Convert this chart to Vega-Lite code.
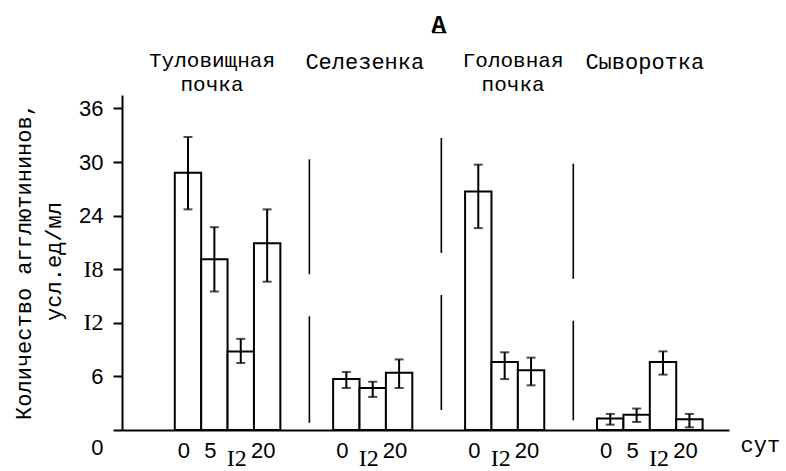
{
  "$schema": "https://vega.github.io/schema/vega-lite/v6.json",
  "width": 607,
  "height": 335,
  "autosize": {"type": "none"},
  "padding": {"left": 122, "top": 95, "right": 57, "bottom": 41},
  "background": "white",
  "config": {"view": {"stroke": null}, "font": "Liberation Mono"},
  "datasets": {
    "bars": [
      {"organ": "Туловищная почка", "day": 0, "bar": "T0", "mean": 28.8, "lo": 24.7, "hi": 32.8},
      {"organ": "Туловищная почка", "day": 5, "bar": "T5", "mean": 19.1, "lo": 15.5, "hi": 22.7},
      {"organ": "Туловищная почка", "day": 12, "bar": "T12", "mean": 8.8, "lo": 7.5, "hi": 10.2},
      {"organ": "Туловищная почка", "day": 20, "bar": "T20", "mean": 20.9, "lo": 16.6, "hi": 24.7},
      {"organ": "Селезенка", "day": 0, "bar": "S0", "mean": 5.7, "lo": 4.7, "hi": 6.5},
      {"organ": "Селезенка", "day": 12, "bar": "S12", "mean": 4.7, "lo": 3.7, "hi": 5.4},
      {"organ": "Селезенка", "day": 20, "bar": "S20", "mean": 6.4, "lo": 4.7, "hi": 7.9},
      {"organ": "Головная почка", "day": 0, "bar": "H0", "mean": 26.7, "lo": 22.6, "hi": 29.7},
      {"organ": "Головная почка", "day": 12, "bar": "H12", "mean": 7.6, "lo": 5.7, "hi": 8.7},
      {"organ": "Головная почка", "day": 20, "bar": "H20", "mean": 6.7, "lo": 5.0, "hi": 8.1},
      {"organ": "Сыворотка", "day": 0, "bar": "W0", "mean": 1.3, "lo": 0.6, "hi": 1.8},
      {"organ": "Сыворотка", "day": 5, "bar": "W5", "mean": 1.7, "lo": 0.9, "hi": 2.4},
      {"organ": "Сыворотка", "day": 12, "bar": "W12", "mean": 7.6, "lo": 6.2, "hi": 8.8},
      {"organ": "Сыворотка", "day": 20, "bar": "W20", "mean": 1.2, "lo": 0.3, "hi": 1.8}
    ],
    "seps": [
      {"bar": "sep1", "top": 30.3, "bottom": 0.8},
      {"bar": "sep2", "top": 32.7, "bottom": 0.8},
      {"bar": "sep3", "top": 29.8, "bottom": 1.1}
    ],
    "one": [{"n": 1}]
  },
  "encoding": {
    "x": {
      "field": "bar",
      "type": "nominal",
      "sort": null,
      "scale": {
        "domain": ["pad0", "pad1", "T0", "T5", "T12", "T20", "pad6", "sep1", "S0", "S12", "S20", "pad11", "sep2", "H0", "H12", "H20", "pad16", "sep3", "W0", "W5", "W12", "W20", "pad22"],
        "paddingInner": 0,
        "paddingOuter": 0
      },
      "axis": {
        "title": "сут",
        "titleFont": "Liberation Mono",
        "titleFontSize": 22,
        "titleFontWeight": "normal",
        "titleColor": "black",
        "titleAngle": 0,
        "titleAlign": "left",
        "titleBaseline": "middle",
        "titleX": 618,
        "titleY": 14,
        "labelExpr": "length(datum.value) <= 3 ? replace(slice(datum.value, 1), '1', 'I') : ''",
        "labelAngle": 0,
        "labelFont": {"condition": {"test": "slice(datum.value, 1) == '12'", "value": "Liberation Serif"}, "value": "Liberation Sans"},
        "labelFontSize": {"condition": {"test": "slice(datum.value, 1) == '12'", "value": 24}, "value": 22},
        "labelColor": "black",
        "labelOffset": -4,
        "labelPadding": {"condition": {"test": "slice(datum.value, 1) == '12'", "value": 16}, "value": 10},
        "ticks": false,
        "tickSize": 0,
        "domainColor": "black",
        "domainWidth": 2,
        "grid": false
      }
    }
  },
  "layer": [
    {
      "data": {"name": "bars"},
      "mark": {"type": "bar", "fill": "white", "stroke": "black", "strokeWidth": 2},
      "encoding": {
        "y": {
          "field": "mean",
          "type": "quantitative",
          "title": ["Количество агглютининов,", "усл.ед/мл"],
          "scale": {"domain": [0, 37.5], "nice": false},
          "axis": {
            "values": [0, 6, 12, 18, 24, 30, 36],
            "title": ["Количество агглютининов,", "усл.ед/мл"],
            "titleFont": "Liberation Mono",
            "titleFontSize": 22,
            "titleFontWeight": "normal",
            "titleColor": "black",
            "titleLineHeight": 30,
            "titleAngle": -90,
            "titleAlign": "center",
            "titleBaseline": "middle",
            "titleX": -99,
            "titleY": 166,
            "labelExpr": "datum.value == 12 ? 'I2' : datum.value == 18 ? 'I8' : datum.label",
            "labelFont": {"condition": {"test": "datum.value == 12 || datum.value == 18", "value": "Liberation Serif"}, "value": "Liberation Sans"},
            "labelFontSize": {"condition": {"test": "datum.value == 12 || datum.value == 18", "value": 24}, "value": 22},
            "labelColor": "black",
            "labelPadding": 10,
            "labelOffset": {"condition": {"test": "datum.value == 0", "value": 17}, "value": 0},
            "tickSize": 9,
            "tickWidth": 2,
            "tickColor": "black",
            "domainColor": "black",
            "domainWidth": 2,
            "grid": false
          }
        }
      }
    },
    {
      "data": {"name": "bars"},
      "mark": {"type": "rule", "color": "black", "strokeWidth": 2},
      "encoding": {
        "y": {"field": "lo", "type": "quantitative", "title": ["Количество агглютининов,", "усл.ед/мл"]},
        "y2": {"field": "hi"}
      }
    },
    {
      "data": {"name": "bars"},
      "mark": {"type": "tick", "orient": "horizontal", "size": 9, "thickness": 2, "color": "black"},
      "encoding": {"y": {"field": "lo", "type": "quantitative", "title": ["Количество агглютининов,", "усл.ед/мл"]}}
    },
    {
      "data": {"name": "bars"},
      "mark": {"type": "tick", "orient": "horizontal", "size": 9, "thickness": 2, "color": "black"},
      "encoding": {"y": {"field": "hi", "type": "quantitative", "title": ["Количество агглютининов,", "усл.ед/мл"]}}
    },
    {
      "data": {"name": "seps"},
      "mark": {"type": "rule", "color": "black", "strokeWidth": 1.6, "strokeDash": [115, 42]},
      "encoding": {
        "x": {"field": "bar", "type": "nominal", "bandPosition": 0.1},
        "y": {"field": "top", "type": "quantitative", "title": ["Количество агглютининов,", "усл.ед/мл"]},
        "y2": {"field": "bottom"}
      }
    },
    {
      "data": {"name": "one"},
      "mark": {"type": "text", "text": ["Туловищная", "почка"], "font": "Liberation Mono", "fontSize": 21, "lineHeight": 24, "align": "center", "baseline": "alphabetic", "color": "black"},
      "encoding": {
        "x": {"datum": "T5", "type": "nominal", "bandPosition": 0.41},
        "y": {"datum": 40.6, "type": "quantitative", "title": ["Количество агглютининов,", "усл.ед/мл"]}
      }
    },
    {
      "data": {"name": "one"},
      "mark": {"type": "text", "text": "Селезенка", "font": "Liberation Mono", "fontSize": 22, "align": "center", "baseline": "alphabetic", "color": "black"},
      "encoding": {
        "x": {"datum": "S12", "type": "nominal", "bandPosition": 0.2},
        "y": {"datum": 40.4, "type": "quantitative", "title": ["Количество агглютининов,", "усл.ед/мл"]}
      }
    },
    {
      "data": {"name": "one"},
      "mark": {"type": "text", "text": ["Головная", "почка"], "font": "Liberation Mono", "fontSize": 21, "lineHeight": 24, "align": "center", "baseline": "alphabetic", "color": "black"},
      "encoding": {
        "x": {"datum": "H12", "type": "nominal", "bandPosition": 0.82},
        "y": {"datum": 40.6, "type": "quantitative", "title": ["Количество агглютининов,", "усл.ед/мл"]}
      }
    },
    {
      "data": {"name": "one"},
      "mark": {"type": "text", "text": "Сыворотка", "font": "Liberation Mono", "fontSize": 22, "align": "center", "baseline": "alphabetic", "color": "black"},
      "encoding": {
        "x": {"datum": "W5", "type": "nominal", "bandPosition": 0.81},
        "y": {"datum": 40.4, "type": "quantitative", "title": ["Количество агглютининов,", "усл.ед/мл"]}
      }
    },
    {
      "data": {"name": "one"},
      "mark": {"type": "text", "text": "A̲", "font": "Liberation Mono", "fontSize": 24, "fontWeight": "bold", "align": "center", "baseline": "alphabetic", "color": "black"},
      "encoding": {
        "x": {"datum": "sep2", "type": "nominal", "bandPosition": 0},
        "y": {"datum": 44.6, "type": "quantitative", "title": ["Количество агглютининов,", "усл.ед/мл"]}
      }
    }
  ]
}
